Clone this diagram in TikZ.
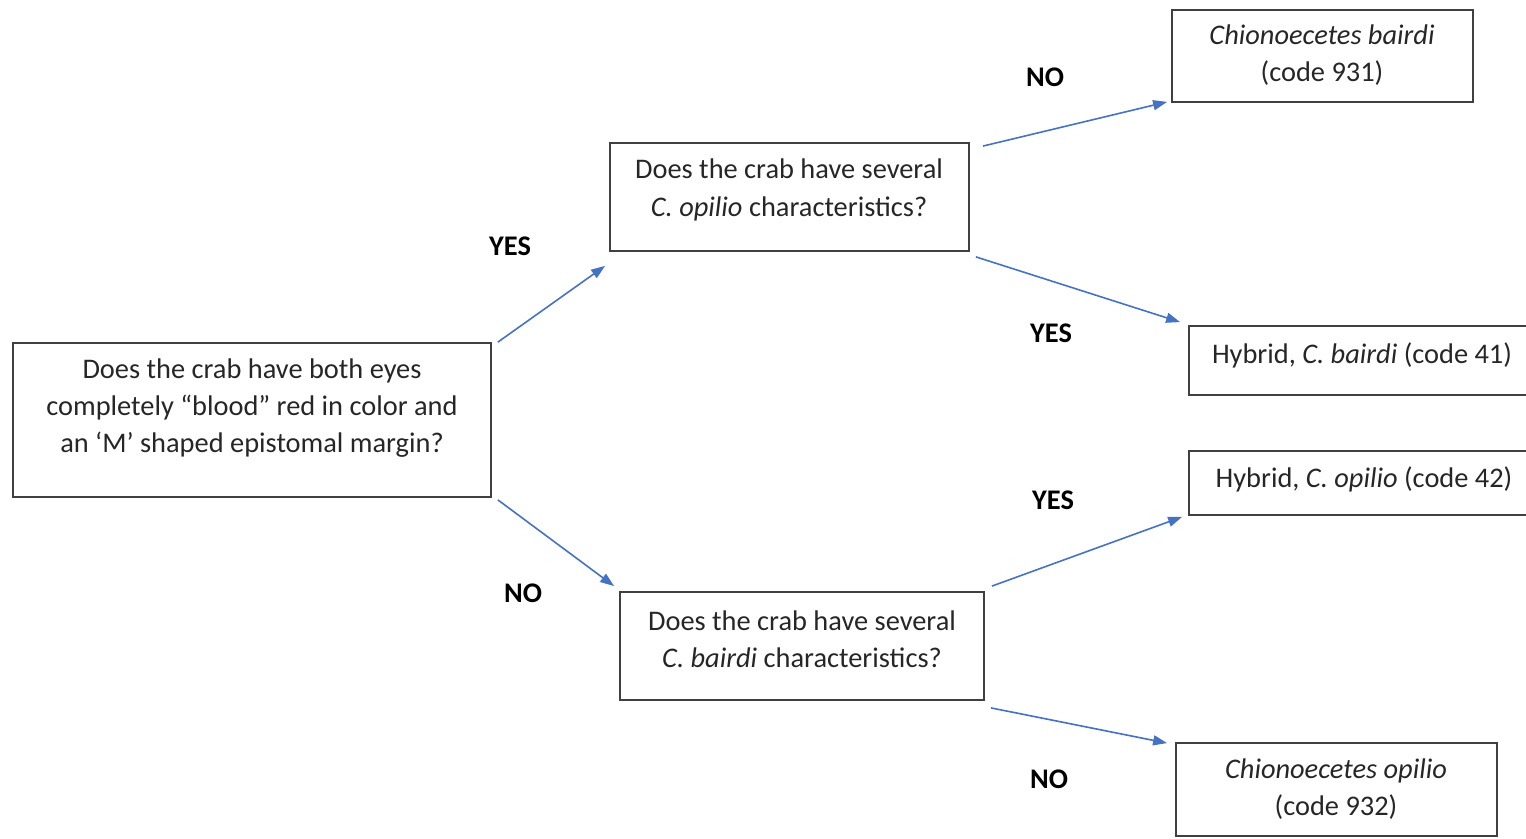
\documentclass[tikz,border=0pt]{standalone}
\usepackage{fontspec}
\setmainfont{Carlito}
\usetikzlibrary{arrows.meta,fit,positioning}
\definecolor{arrowblue}{HTML}{4472C4}
\definecolor{boxgray}{HTML}{404040}

\begin{document}
\begin{tikzpicture}[x=0.5pt, y=-0.5pt, font=\fontsize{14.2}{18.7}\selectfont,
   box/.style={rectangle, draw=boxgray, line width=0.9pt, inner sep=0pt},
   txt/.style={align=center, inner sep=0pt, text=black!85},
   answer/.style={inner sep=0pt, font=\fontsize{14.2}{18.7}\selectfont\bfseries},
   link/.style={draw=arrowblue, line width=0.8pt, -{Triangle[length=7pt, width=5pt]}}]
   \useasboundingbox (0,0) rectangle (1526,839);
   % boxes
   \node[box, fit={(13,343) (491,497)}] (q0) {};
   \node[box, fit={(610,143) (969,251)}] (q1) {};
   \node[box, fit={(620,592) (984,700)}] (q2) {};
   \node[box, fit={(1172,10) (1473,102)}] (r1) {};
   \node[box, fit={(1189,326) (1532,395)}] (r2) {};
   \node[box, fit={(1189,451) (1532,515)}] (r3) {};
   \node[box, fit={(1176,743) (1497,836)}] (r4) {};
   % texts
   \node[txt] (q0txt) at (252,408) {Does the crab have both eyes\\ completely “blood” red in color and\\ an ‘M’ shaped epistomal margin?};
   \node[txt] (q1txt) at (789,190) {Does the crab have several\\ \textit{C. opilio} characteristics?};
   \node[txt] (q2txt) at (802,639) {Does the crab have several\\ \textit{C. bairdi} characteristics?};
   \node[txt] (r1txt) at (1322,55) {\textit{Chionoecetes bairdi}\\ (code 931)};
   \node[txt] (r2txt) at (1362,355) {Hybrid, \textit{C. bairdi} (code 41)};
   \node[txt] (r3txt) at (1364,479) {Hybrid, \textit{C. opilio} (code 42)};
   \node[txt] (r4txt) at (1336,789) {\textit{Chionoecetes opilio}\\ (code 932)};
   % answers
   \node[answer] (yes1) at (510,246) {YES};
   \node[answer] (no1) at (523,593) {NO};
   \node[answer] (no2) at (1045,77) {NO};
   \node[answer] (yes2) at (1051,333) {YES};
   \node[answer] (yes3) at (1053,500) {YES};
   \node[answer] (no3) at (1049,779) {NO};
   % connectors
   \draw[link] ([shift={(6,0)}]q0.north east) -- ([shift={(-4,14)}]q1.south west);
   \draw[link] ([shift={(6,2)}]q0.south east) -- ([shift={(-5,-5)}]q2.north west);
   \draw[link] ([shift={(13,4)}]q1.north east) -- ([shift={(-4,-1)}]r1.south west);
   \draw[link] ([shift={(6,5)}]q1.south east) -- ([shift={(-8,-3)}]r2.north west);
   \draw[link] ([shift={(7,-5)}]q2.north east) -- ([shift={(-6,1)}]r3.south west);
   \draw[link] ([shift={(6,7)}]q2.south east) -- ([shift={(-8,1)}]r4.north west);
\end{tikzpicture}
\end{document}
